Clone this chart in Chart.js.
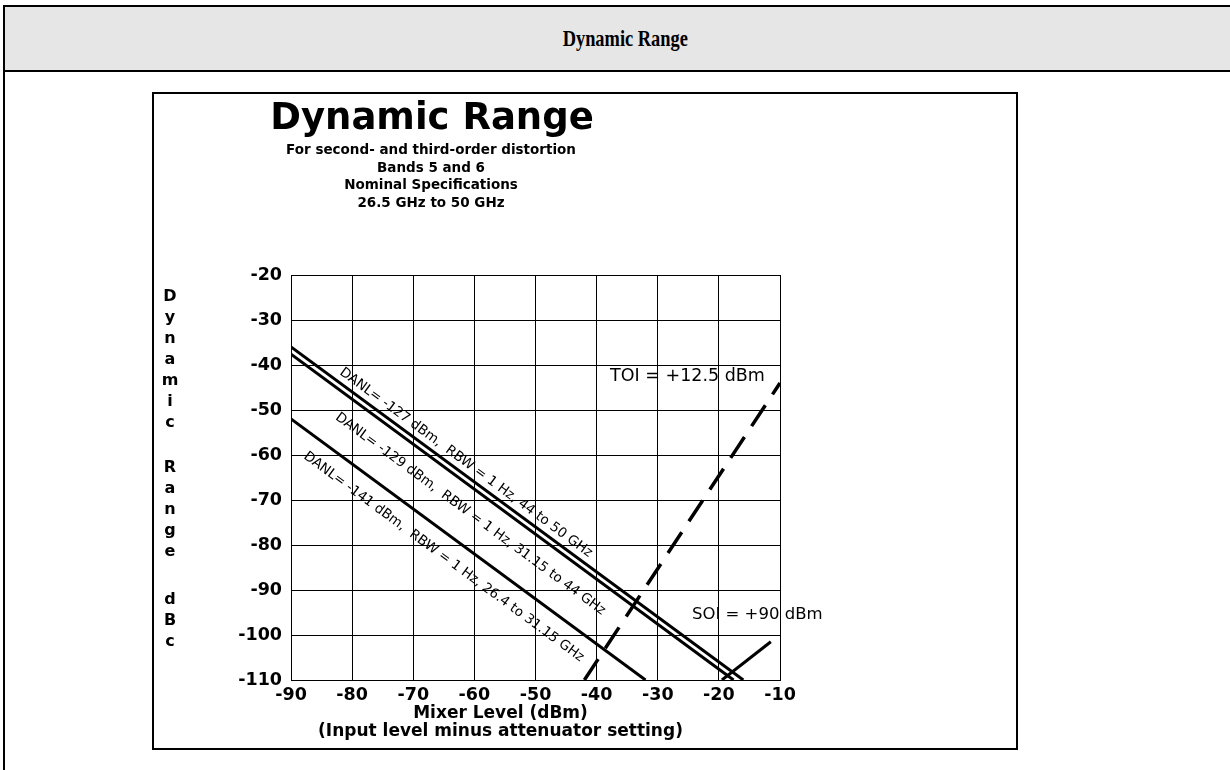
<!DOCTYPE html>
<html lang="en">
<head>
    <meta charset="UTF-8">
    <title>Dynamic Range</title>
    <script src="https://cdn.jsdelivr.net/npm/chart.js"></script>
    <style>
        body { margin: 0; background: #fff; }
        #frame {
            position: absolute; left: 3px; top: 5px; width: 1240px; height: 780px;
            border-left: 2px solid #000; border-top: 2px solid #000;
        }
        #head {
            height: 63px; background: #e6e6e6; border-bottom: 2px solid #000;
            text-align: center;
            font: bold 23px "Liberation Serif", serif;
            line-height: 63px;
        }
        #head span { display: inline-block; transform: scaleX(0.8); }
        #chart-box {
            position: absolute; left: 152px; top: 92px; width: 862px; height: 654px;
            border: 2px solid #000; background: #fff;
        }
        #chart-box canvas { display: block; }
    </style>
</head>
<body>
    <div id="frame"><div id="head"><span>Dynamic Range</span></div></div>
    <div id="chart-box">
        <canvas id="drChart" width="862" height="654"></canvas>
    </div>
    <script>
        // mixer level (dBm) and dynamic range (dBc) end points
        var danl127Level = [-90, -16];
        var danl127Range = [-36, -110];
        var danl129Level = [-90, -17.6];
        var danl129Range = [-37.6, -110];
        var danl141Level = [-90, -32];
        var danl141Range = [-52, -110];
        var toiLevel = [-42, -10];
        var toiRange = [-110, -44];
        var soiLevel = [-19.5, -11.5];
        var soiRange = [-110, -101.5];

        var xTicks = [-90, -80, -70, -60, -50, -40, -30, -20, -10];
        var yTicks = [-20, -30, -40, -50, -60, -70, -80, -90, -100, -110];

        var lineLabels = [
            'DANL= -127 dBm,  RBW = 1 Hz, 44 to 50 GHz',
            'DANL= -129 dBm,  RBW = 1 Hz, 31.15 to 44 GHz',
            'DANL= -141 dBm,  RBW = 1 Hz, 26.4 to 31.15 GHz'
        ];
        var toiText = 'TOI = +12.5 dBm';
        var soiText = 'SOI = +90 dBm';

        var titleText = 'Dynamic Range';
        var subtitleLines = [
            'For second- and third-order distortion',
            'Bands 5 and 6',
            'Nominal Specifications',
            '26.5 GHz to 50 GHz'
        ];
        var xTitleLines = ['Mixer Level (dBm)', '(Input level minus attenuator setting)'];
        var yTitleWords = ['Dynamic', 'Range', 'dBc'];

        function pts(xs, ys) {
            var out = [];
            for (var i = 0; i < xs.length; i++) out.push({ x: xs[i], y: ys[i] });
            return out;
        }

        // where the free texts sit (data units for plot notes)
        var lineLabelAt = [[-81.8, -41.3], [-82.5, -51.3], [-87.7, -60]];
        var noteAt = { toi: [-37.8, -42.6], soi: [-24.4, -95.6] };

        var textPlugin = {
            id: 'textPlugin',
            afterDraw: function(chart) {
                var ctx = chart.ctx;
                var xs = chart.scales.x, ys = chart.scales.y;
                ctx.save();
                ctx.fillStyle = '#000';
                ctx.textBaseline = 'middle';

                // main title and subtitles
                ctx.textAlign = 'center';
                ctx.font = 'bold 37px "DejaVu Sans"';
                ctx.fillText(titleText, 278, 25);
                ctx.font = 'bold 13.5px "DejaVu Sans"';
                var subY = [56, 74, 91, 109];
                for (var i = 0; i < subtitleLines.length; i++) {
                    ctx.fillText(subtitleLines[i], 277, subY[i]);
                }

                // stacked y title letters
                ctx.font = 'bold 16px "DejaVu Sans"';
                var wordY = [203, 374, 506];
                for (var w = 0; w < yTitleWords.length; w++) {
                    var word = yTitleWords[w];
                    for (var k = 0; k < word.length; k++) {
                        ctx.fillText(word[k], 16, wordY[w] + k * 21);
                    }
                }

                // x title
                ctx.font = 'bold 17px "DejaVu Sans"';
                var cx = (xs.left + xs.right) / 2 - 35;
                ctx.fillText(xTitleLines[0], cx, 620);
                ctx.fillText(xTitleLines[1], cx, 638);

                // labels along the DANL lines
                var ang = Math.atan2(ys.getPixelForValue(-30) - ys.getPixelForValue(-20),
                                     xs.getPixelForValue(-20) - xs.getPixelForValue(-30));
                ctx.textAlign = 'left';
                ctx.font = '13.5px "DejaVu Sans"';
                for (var j = 0; j < lineLabels.length; j++) {
                    ctx.save();
                    ctx.translate(xs.getPixelForValue(lineLabelAt[j][0]), ys.getPixelForValue(lineLabelAt[j][1]));
                    ctx.rotate(ang);
                    ctx.fillText(lineLabels[j], 0, 0);
                    ctx.restore();
                }

                // TOI / SOI notes
                ctx.font = '17.5px "DejaVu Sans"';
                ctx.fillText(toiText, xs.getPixelForValue(noteAt.toi[0]), ys.getPixelForValue(noteAt.toi[1]));
                ctx.font = '16.5px "DejaVu Sans"';
                ctx.fillText(soiText, xs.getPixelForValue(noteAt.soi[0]), ys.getPixelForValue(noteAt.soi[1]));
                ctx.restore();
            }
        };

        var solid = { borderColor: '#000', borderWidth: 3, pointRadius: 0, showLine: true, fill: false, tension: 0 };

        new Chart(document.getElementById('drChart').getContext('2d'), {
            type: 'scatter',
            data: {
                datasets: [
                    Object.assign({ label: 'DANL -127', data: pts(danl127Level, danl127Range) }, solid),
                    Object.assign({ label: 'DANL -129', data: pts(danl129Level, danl129Range) }, solid),
                    Object.assign({ label: 'DANL -141', data: pts(danl141Level, danl141Range) }, solid),
                    Object.assign({ label: 'TOI', data: pts(toiLevel, toiRange) }, solid, { borderWidth: 3.5, borderDash: [25, 13] }),
                    Object.assign({ label: 'SOI', data: pts(soiLevel, soiRange) }, solid)
                ]
            },
            options: {
                responsive: false,
                animation: false,
                devicePixelRatio: 1,
                layout: { padding: { left: 0, top: 181, right: 236, bottom: 0 } },
                plugins: { legend: { display: false }, tooltip: { enabled: false } },
                scales: {
                    x: {
                        type: 'linear', min: -90, max: -10,
                        afterFit: function(s) { s.height = 68; },
                        afterBuildTicks: function(s) { s.ticks = xTicks.map(function(v) { return { value: v }; }); },
                        grid: { color: '#000', lineWidth: 1, drawTicks: false },
                        border: { color: '#000', width: 1 },
                        ticks: { color: '#000', padding: 5, font: { family: 'DejaVu Sans', weight: 'bold', size: 17.5 } }
                    },
                    y: {
                        type: 'linear', min: -110, max: -20,
                        afterFit: function(s) { s.width = 137; },
                        afterBuildTicks: function(s) { s.ticks = yTicks.map(function(v) { return { value: v }; }); },
                        grid: { color: '#000', lineWidth: 1, drawTicks: false },
                        border: { color: '#000', width: 1 },
                        ticks: { color: '#000', padding: 9, font: { family: 'DejaVu Sans', weight: 'bold', size: 17.5 } }
                    }
                }
            },
            plugins: [textPlugin]
        });
    </script>
</body>
</html>
